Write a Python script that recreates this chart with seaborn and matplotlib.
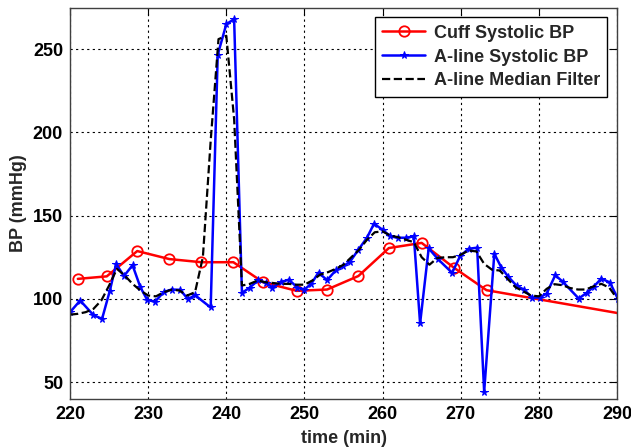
import numpy as np
import pandas as pd
import matplotlib
matplotlib.use("Agg")
import matplotlib.pyplot as plt
import seaborn as sns

# Cuff systolic BP
cuff_t = [221.0, 224.7, 228.6, 232.7, 236.8, 240.9, 244.7, 249.0, 252.9, 256.9, 260.8, 265.0, 269.1, 273.3, 297.0]
cuff_bp = [112.0, 113.5, 128.7, 123.9, 122.0, 122.0, 110.0, 104.8, 105.6, 113.7, 130.5, 133.6, 118.8, 105.2, 85.8]

# A-line systolic BP
aline_t = [220.0, 221.3, 223.0, 224.1, 225.1, 225.9, 226.9, 228.0, 229.0, 229.9, 230.9, 232.0, 233.0, 234.1,
           235.1, 236.0, 238.0, 238.9, 240.0, 241.0, 242.0, 243.0, 244.1, 245.1, 245.9, 247.0, 248.0, 249.1,
           250.0, 250.9, 251.8, 252.9, 254.0, 254.9, 255.8, 256.9, 258.0, 258.9, 260.0, 261.0, 262.0, 263.0,
           264.0, 264.8, 265.9, 267.1, 268.9, 269.9, 271.0, 272.1, 273.0, 274.3, 275.2, 276.1, 277.2, 278.1,
           279.1, 280.1, 281.0, 282.1, 283.1, 285.1, 286.1, 287.0, 288.0, 289.1, 290.1]
aline_bp = [92.0, 99.0, 90.2, 88.0, 105.0, 121.0, 113.7, 120.2, 107.0, 99.2, 98.4, 104.1, 105.6, 105.4,
            99.8, 102.2, 94.8, 246.6, 265.0, 268.0, 103.5, 106.8, 111.2, 109.5, 106.8, 110.1, 111.5, 106.8,
            105.6, 109.2, 115.8, 111.2, 117.1, 119.5, 122.1, 129.5, 136.7, 145.1, 141.5, 137.5, 136.7, 136.7,
            137.5, 85.2, 130.3, 123.8, 115.6, 125.5, 130.1, 130.7, 44.2, 127.1, 118.8, 113.2, 107.6, 105.6,
            100.8, 100.8, 103.2, 114.2, 110.1, 100.2, 103.5, 107.2, 112.2, 109.8, 100.2]

# A-line median filter
med_t = list(range(220, 291))
med_bp = [90.5, 91.0, 92.0, 94.0, 99.0, 108.0, 118.0, 114.0, 109.0, 105.0, 102.0, 101.5, 104.0, 105.5,
          105.0, 102.0, 104.0, 125.0, 195.0, 256.0, 258.0, 208.0, 108.0, 109.0, 111.0, 110.0, 109.5, 109.0,
          109.0, 108.5, 108.5, 111.0, 114.5, 116.0, 118.0, 120.5, 125.0, 129.5, 135.5, 140.0, 140.5, 138.0,
          137.0, 135.5, 134.0, 125.0, 120.5, 124.5, 125.0, 125.0, 126.5, 129.0, 128.5, 121.0, 117.5, 117.0,
          112.0, 107.0, 104.5, 102.0, 101.5, 106.0, 108.8, 108.2, 106.5, 105.6, 105.6, 107.5, 109.0, 106.8,
          100.2]

x_ticks = [220, 230, 240, 250, 260, 270, 280, 290]
y_ticks = [50, 100, 150, 200, 250]

sns.set_theme(style="white")
plt.rcParams['font.family'] = ['Liberation Sans', 'DejaVu Sans']
plt.rcParams['font.weight'] = 'bold'

fig = plt.figure(figsize=(6.31, 4.47), dpi=100)
ax = fig.add_axes([0.111, 0.108, 0.8668, 0.8752])

sns.lineplot(x=cuff_t, y=cuff_bp, ax=ax, sort=False, estimator=None, color='#ff0000',
             marker='o', markersize=7.5, markerfacecolor='none', markeredgecolor='#ff0000',
             markeredgewidth=1.3, linewidth=1.8, label='Cuff Systolic BP')
sns.lineplot(x=aline_t, y=aline_bp, ax=ax, sort=False, estimator=None, color='#0000ff',
             marker='*', markersize=5.5, markeredgecolor='#0000ff', markerfacecolor='#0000ff',
             linewidth=1.8, label='A-line Systolic BP')
sns.lineplot(x=med_t, y=med_bp, ax=ax, sort=False, estimator=None, color='black',
             linestyle='--', dashes=(4, 2.5), linewidth=1.6, label='A-line Median Filter')

ax.set_xlim(220, 290)
ax.set_ylim(40, 275)
ax.set_xticks(x_ticks)
ax.set_yticks(y_ticks)
ax.set_xticklabels([str(t) for t in x_ticks], fontsize=13, fontweight='bold')
ax.set_yticklabels([str(t) for t in y_ticks], fontsize=13, fontweight='bold')
ax.set_xlabel('time (min)', fontsize=13, fontweight='bold', labelpad=5)
ax.set_ylabel('BP (mmHg)', fontsize=13, fontweight='bold', labelpad=4)

ax.grid(True, color='black', linestyle=(0, (2, 3)), linewidth=0.8)
ax.tick_params(direction='in', length=5, width=0.8, top=True, right=True, pad=5, colors='black')
for s in ax.spines.values():
    s.set_color('#404040')
    s.set_linewidth(1.0)

leg = ax.legend(loc='upper right', fontsize=13, frameon=True, fancybox=False, framealpha=1,
                edgecolor='black', borderaxespad=0.55, handlelength=2.4, borderpad=0.4,
                labelspacing=0.38, handletextpad=0.45)
leg.get_frame().set_linewidth(1.0)
for t in leg.get_texts():
    t.set_fontweight('bold')

fig.savefig('out.png', dpi=100)
